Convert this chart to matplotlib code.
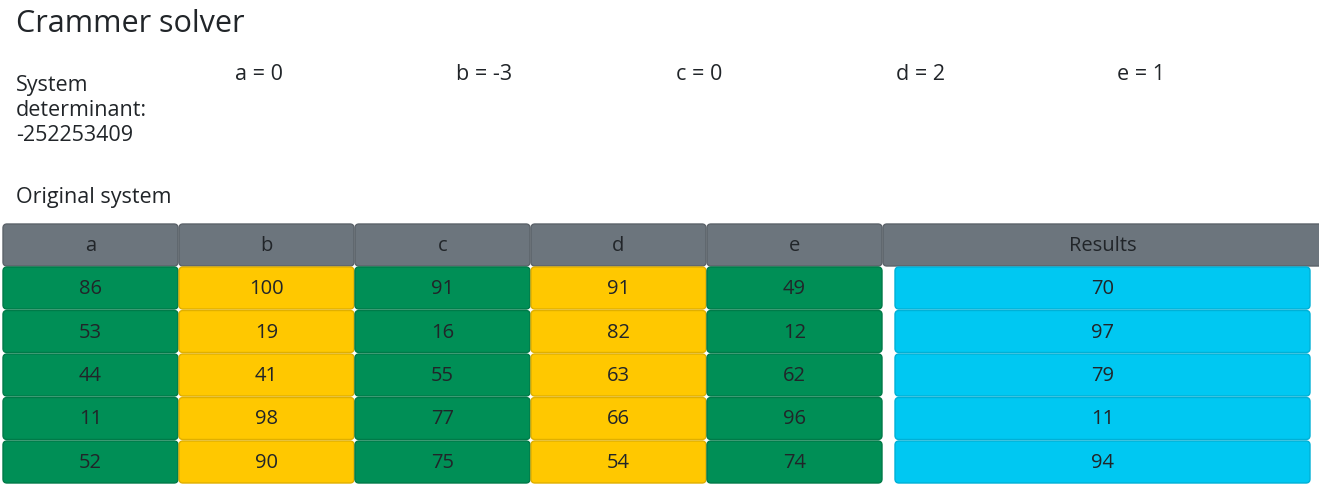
import matplotlib.pyplot as plt
from matplotlib.patches import FancyBboxPatch

plt.rcParams['font.family'] = ['Open Sans', 'DejaVu Sans']

columns = ['a', 'b', 'c', 'd', 'e']
solution = [0, -3, 0, 2, 1]
determinant = -252253409
matrix = [
    [86, 100, 91, 91, 49],
    [53, 19, 16, 82, 12],
    [44, 41, 55, 63, 62],
    [11, 98, 77, 66, 96],
    [52, 90, 75, 54, 74],
]
results = [70, 97, 79, 11, 94]

W, H = 1319, 495
fig = plt.figure(figsize=(W / 100, H / 100), dpi=100)
ax = fig.add_axes([0, 0, 1, 1])
ax.set_xlim(0, W)
ax.set_ylim(H, 0)
ax.axis('off')

txt = '#212529'
grey = '#6c757d'
green = '#008f56'
yellow = '#ffc800'
cyan = '#00c8f2'


def cell(x0, y0, w, h, fc, ec, label):
    ax.add_patch(FancyBboxPatch((x0, y0), w, h, boxstyle='round,pad=0,rounding_size=4',
                                fc=fc, ec=ec, lw=1))
    ax.text(x0 + w / 2, y0 + h / 2 + 1, str(label), ha='center', va='center',
            fontsize=14.5, color=txt)


ax.text(16, 24, 'Crammer solver', fontsize=22, va='center', color=txt)
ax.text(16, 75, 'System\ndeterminant:\n%d' % determinant, fontsize=15.5, va='top',
        ha='left', color=txt, linespacing=1.25, transform=ax.transData)
# adjust: first line baseline near y=75 centre
for i, (c, v) in enumerate(zip(columns, solution)):
    ax.text(235 + i * 220.5, 75, '%s = %d' % (c, v), fontsize=15.5, va='center', color=txt)
ax.text(16, 197, 'Original system', fontsize=15.5, va='center', color=txt)

col_x = [3 + i * 176 for i in range(5)]
col_w = 175
hy, hh = 224, 42
for x0, c in zip(col_x, columns):
    cell(x0, hy, col_w, hh, grey, '#5c636a', c)
cell(883, hy, 440, hh, grey, '#5c636a', 'Results')

row_y = [267 + r * 43.5 for r in range(5)]
for r, row in enumerate(matrix):
    for j, v in enumerate(row):
        fc = green if j % 2 == 0 else yellow
        ec = '#007a48' if j % 2 == 0 else '#e0af00'
        cell(col_x[j], row_y[r], col_w, 42, fc, ec, v)
    cell(895, row_y[r], 415, 42, cyan, '#00b0d6', results[r])

fig.savefig('out.png', dpi=100)
